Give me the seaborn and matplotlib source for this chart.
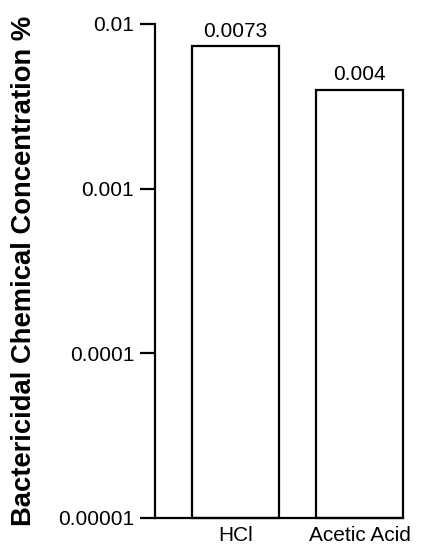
import matplotlib
matplotlib.use("Agg")
import matplotlib.pyplot as plt
import seaborn as sns
import pandas as pd

# Bactericidal concentrations (%) per chemical
chemicals = ["HCl", "Acetic Acid"]
concentrations = [0.0073, 0.004]
value_labels = ["0.0073", "0.004"]
y_ticks = [0.00001, 0.0001, 0.001, 0.01]
y_tick_labels = ["0.00001", "0.0001", "0.001", "0.01"]
y_floor = 0.00001

df = pd.DataFrame({"chemical": chemicals, "concentration": concentrations})

sns.set_style("white")
plt.rcParams["font.family"] = ["Liberation Sans", "DejaVu Sans"]
plt.rcParams["text.color"] = "black"
plt.rcParams["axes.labelcolor"] = "black"
plt.rcParams["xtick.color"] = "black"
plt.rcParams["ytick.color"] = "black"

fig = plt.figure(figsize=(4.23, 5.54), dpi=100)
ax = fig.add_axes([0.3664, 0.065, 0.5863, 0.8917])

sns.barplot(data=df, x="chemical", y="concentration", ax=ax,
            color="white", edgecolor="black", linewidth=1.6,
            width=0.70, log_scale=(False, True), errorbar=None)

# bars start at the bottom of the log axis instead of zero
for patch, val in zip(ax.patches, concentrations):
    patch.set_y(y_floor)
    patch.set_height(val - y_floor)
    patch.set_clip_on(False)

ax.set_ylim(y_floor, 0.01)
ax.set_xlim(-0.647, 1.35)
ax.set_yticks(y_ticks)
ax.set_yticklabels(y_tick_labels)
ax.yaxis.set_minor_locator(matplotlib.ticker.NullLocator())

ax.bar_label(ax.containers[0], labels=value_labels, padding=4, fontsize=15)

ax.tick_params(axis="y", direction="out", length=11, width=1.6,
               color="black", labelsize=15, pad=4, left=True)
ax.tick_params(axis="x", length=0, labelsize=15, pad=6)

for side in ["top", "right"]:
    ax.spines[side].set_visible(False)
for side in ["left", "bottom"]:
    ax.spines[side].set_color("black")
    ax.spines[side].set_linewidth(1.6)

ax.set_xlabel("")
ax.set_ylabel("Bactericidal Chemical Concentration %", fontsize=19.7,
              fontweight="bold")
ax.yaxis.set_label_coords(-0.475, 0.5)

fig.savefig("out.png", dpi=100)
